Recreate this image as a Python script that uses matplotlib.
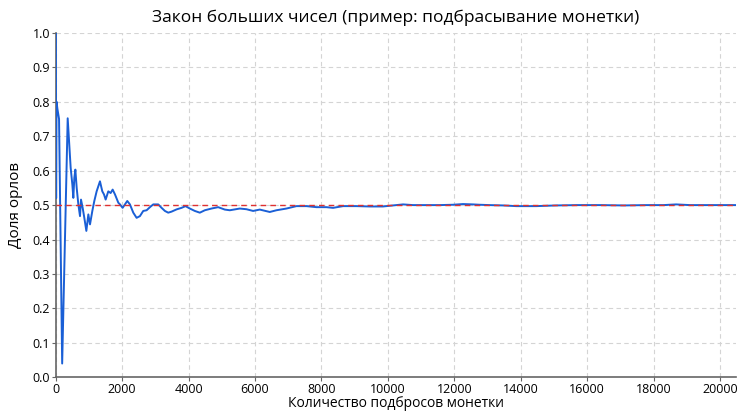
import matplotlib
matplotlib.use('Agg')
import matplotlib.pyplot as plt
import numpy as np

plt.rcParams['font.family'] = ['Open Sans', 'DejaVu Sans']

# Running share of heads (number of flips, share)
flips = [1, 5, 12, 25, 50, 100, 194, 360, 450, 500, 530, 560, 591, 631, 681,
         731, 761, 811, 861, 922, 982, 1032, 1102, 1162, 1232, 1332, 1402,
         1453, 1503, 1583, 1653, 1714, 1784, 1884, 1934, 2014, 2084, 2154,
         2234, 2335, 2435, 2535, 2635, 2736, 2836, 2936, 3086, 3187, 3287,
         3387, 3487, 3638, 3788, 3908, 4038, 4188, 4338, 4489, 4690, 4890,
         5090, 5241, 5542, 5742, 5943, 6143, 6444, 6645, 6946, 7247, 7548,
         7849, 8149, 8350, 8651, 9052, 9453, 9854, 10155, 10456, 10757,
         11158, 11559, 11960, 12261, 12562, 12762, 13062, 13465, 13865,
         14466, 15068, 15700, 16400, 17100, 17800, 18300, 18677, 19100,
         19700, 20480]
share = [1.0, 1.0, 0.52, 0.80, 0.78, 0.75, 0.04, 0.752, 0.608, 0.56, 0.521,
         0.579, 0.603, 0.55, 0.502, 0.468, 0.516, 0.492, 0.463, 0.425, 0.473,
         0.444, 0.483, 0.512, 0.54, 0.569, 0.54, 0.531, 0.516, 0.54, 0.535,
         0.545, 0.531, 0.507, 0.502, 0.492, 0.502, 0.512, 0.502, 0.478, 0.463,
         0.468, 0.483, 0.485, 0.494, 0.502, 0.502, 0.492, 0.483, 0.478, 0.481,
         0.4875, 0.492, 0.497, 0.49, 0.483, 0.478, 0.485, 0.49, 0.494, 0.487,
         0.485, 0.49, 0.488, 0.483, 0.487, 0.48, 0.485, 0.49, 0.497, 0.497,
         0.494, 0.494, 0.492, 0.497, 0.497, 0.496, 0.496, 0.499, 0.502, 0.50,
         0.50, 0.50, 0.501, 0.503, 0.502, 0.501, 0.50, 0.499, 0.497, 0.497,
         0.499, 0.50, 0.50, 0.499, 0.50, 0.50, 0.502, 0.50, 0.50, 0.50]
expected = 0.5

fig = plt.figure(figsize=(7.5, 4.12), dpi=100)
ax = fig.add_axes([0.0743, 0.0842, 0.907, 0.836])

ax.plot(flips, share, color='#1a5fd6', lw=1.4, zorder=3)
ax.axhline(expected, color='#e03030', lw=1, ls=(0, (4, 3)), zorder=4)

ax.set_xlim(0, 20480)
ax.set_ylim(0, 1)
ax.set_xticks(np.arange(0, 20001, 2000))
ax.set_yticks(np.arange(0, 1.01, 0.1))
ax.set_yticklabels([f'{v:.1f}' for v in np.arange(0, 1.01, 0.1)])

ax.grid(True, ls=(0, (4, 3)), color='#d4d4d4', lw=0.8)
ax.set_axisbelow(True)
for s in ['top', 'right']:
    ax.spines[s].set_visible(False)
for s in ['left', 'bottom']:
    ax.spines[s].set_color('#666666')
    ax.spines[s].set_linewidth(1.2)
ax.tick_params(labelsize=9, length=3, color='#666666', pad=1)

ax.set_title('Закон больших чисел (пример: подбрасывание монетки)', fontsize=12.5, pad=8)
ax.set_xlabel('Количество подбросов монетки', fontsize=10, labelpad=0)
ax.set_ylabel('Доля орлов', fontsize=11, labelpad=7)

fig.savefig('out.png', dpi=100)
